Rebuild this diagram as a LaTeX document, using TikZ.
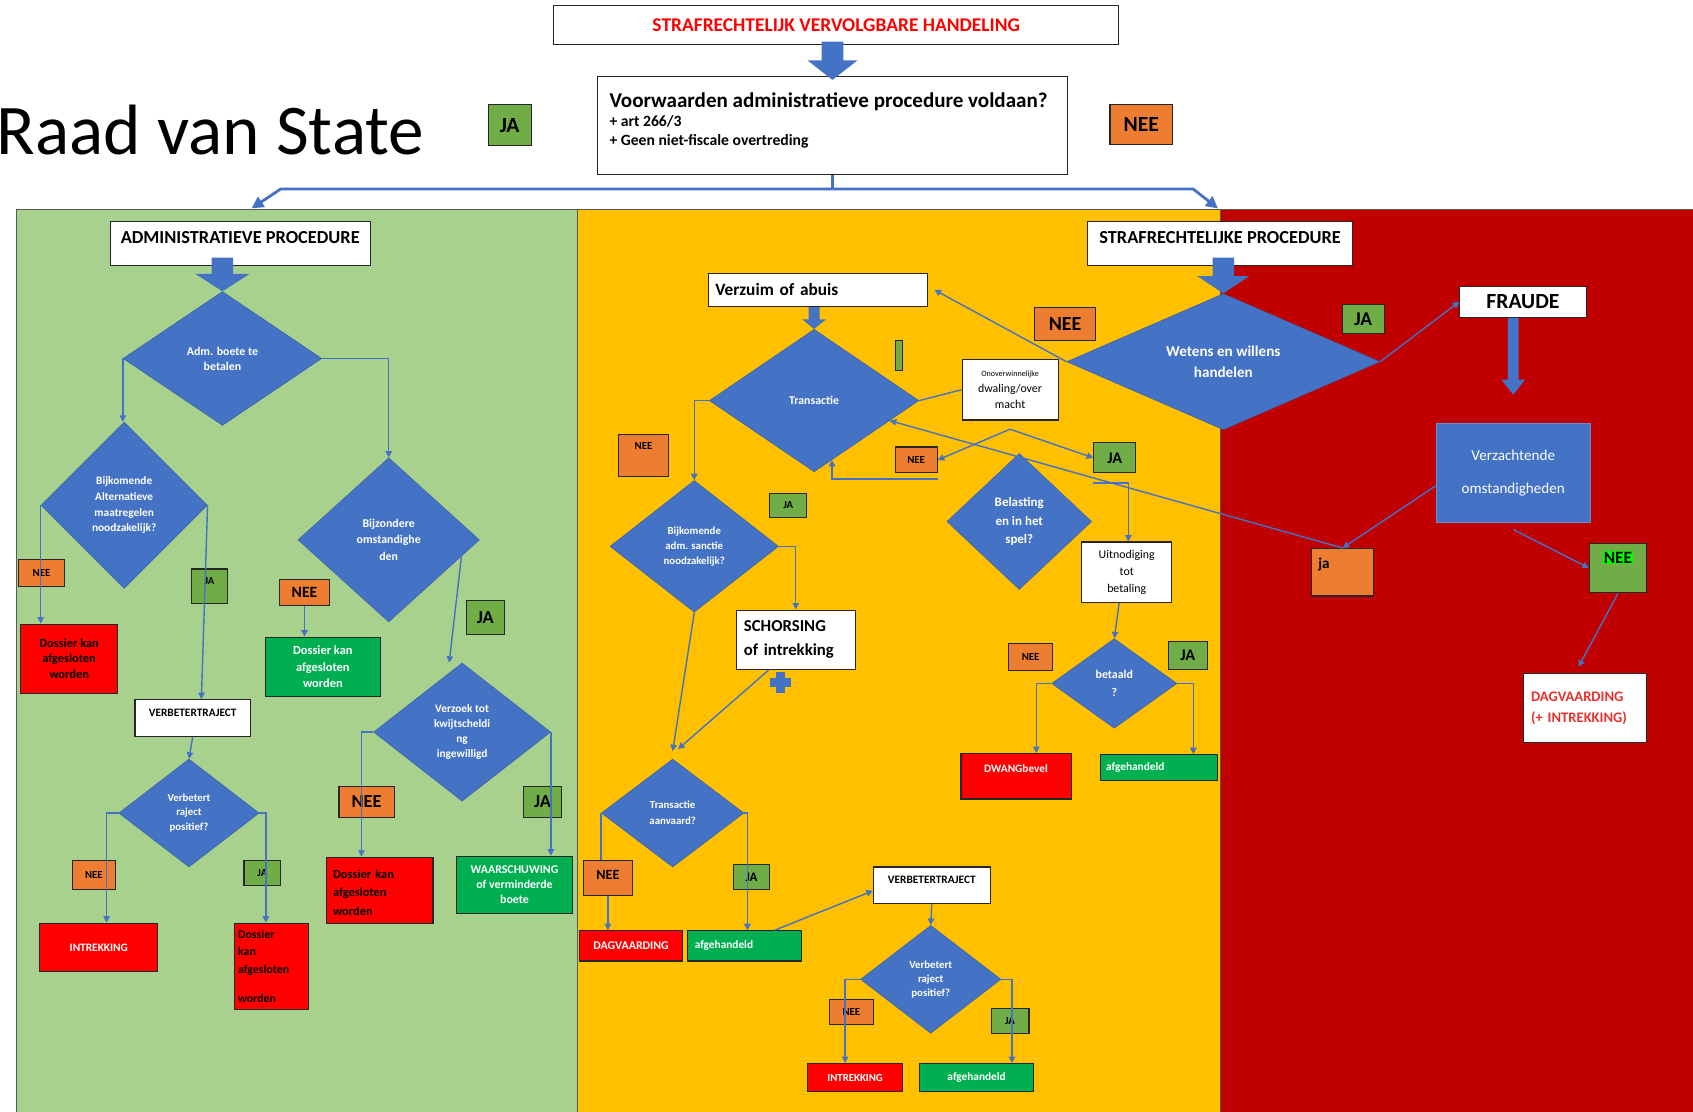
\documentclass[tikz,border=0pt]{standalone}
\usepackage{fontspec}
\setmainfont{Carlito}
\usetikzlibrary{shapes.geometric,arrows.meta,calc}
\definecolor{bl}{HTML}{4472C4}
\definecolor{pg}{HTML}{A9D18E}
\definecolor{py}{HTML}{FFC000}
\definecolor{pr}{HTML}{C00000}
\definecolor{lg}{HTML}{70AD47}
\definecolor{og}{HTML}{ED7D31}
\definecolor{rb}{HTML}{FF0000}
\definecolor{gb}{HTML}{00B050}
\definecolor{hl}{HTML}{00FF00}
\definecolor{tr}{HTML}{E8322F}
\newcommand\fsz[2]{\fontsize{#1}{#2}\selectfont}
\newcommand\blk[5]{\fill[bl] let \p1=#1, \p2=#2 in (\x1-#3,\y1) -- (\x1+#3,\y1) -- (\x1+#3,\y2+#5) -- (\x1+#4,\y2+#5) -- (\x1,\y2) -- (\x1-#4,\y2+#5) -- (\x1-#3,\y2+#5) -- cycle;}
\begin{document}
\begin{tikzpicture}[x=1pt,y=-1pt,
 conn/.style={draw=bl, line width=1.3pt, -{Triangle[length=6pt,width=6pt]}},
 cline/.style={draw=bl, line width=1.3pt},
 big/.style={draw=bl, line width=2.6pt},
 bigA/.style={big, -{Triangle[length=11pt,width=11pt]}},
 dia/.style={diamond, aspect=1.4, fill=bl, draw=bl!85!black, line width=0.5pt, inner sep=0pt, align=center, text=white, font=\bfseries\fsz{10}{14}},
 sz/.style 2 args={minimum width=#1pt, minimum height=#2pt},
 wbox/.style={draw=black!85, line width=1pt, fill=white, align=center, inner sep=1pt, font=\bfseries},
 rbox/.style={wbox, fill=rb},
 gbox/.style={wbox, fill=gb, text=white},
 labO/.style={draw=black!85, line width=1pt, fill=og, inner sep=0pt, font=\bfseries},
 labG/.style={labO, fill=lg},
]
\useasboundingbox (0,0) rectangle (1568,1029);
\fill[white] (0,0) rectangle (1568,1029);
\node[anchor=base west, font=\fsz{66}{70}, inner sep=0pt] (rvs) at (-3,143) {Raad van State};

% panels
\filldraw[fill=pg, draw=black!65, line width=1pt] (15,194) rectangle (535,1035);
\filldraw[fill=py, draw=black!65, line width=1pt] (535,194) rectangle (1130,1035);
\filldraw[fill=pr, draw=black!65, line width=1pt] (1130,194) rectangle (1575,1035);

% top
\node[wbox, sz={523}{36}, text=rb, font=\bfseries\fsz{18}{20}] (title) at (774.5,23) {STRAFRECHTELIJK VERVOLGBARE HANDELING};
\node[wbox, anchor=north west, inner sep=0pt] (vw) at (553,70) {\begin{minipage}[t][91pt][t]{435pt}\leftskip=11pt\vspace*{15pt}\fsz{19.5}{20}Voorwaarden administratieve procedure voldaan?\par\fsz{14.5}{18}+ art 266/3\par + Geen niet-fiscale overtreding\par\end{minipage}};
\node[labG, sz={40}{38}, font=\bfseries\fsz{20}{22}] (jat) at (472,116) {JA};
\node[labO, sz={58}{37}, font=\bfseries\fsz{20}{22}] (neet) at (1057,115.5) {NEE};

% green panel
\node[wbox, sz={241}{41}, font=\bfseries\fsz{17}{19}, text depth=11pt] (adm) at (222.5,225.5) {ADMINISTRATIEVE PROCEDURE};
\node[dia, sz={184}{124}, font=\bfseries\fsz{11}{14}] (d1) at (206,332) {Adm. boete te\\betalen};
\node[dia, sz={154}{154}, font=\bfseries\fsz{10.5}{14.5}] (d2) at (115,468) {Bijkomende\\Alternatieve\\maatregelen\\noodzakelijk?};
\node[dia, sz={168}{152}, font=\bfseries\fsz{11}{15}] (d3) at (360,500) {Bijzondere\\omstandighe\\den};
\node[dia, sz={130}{100}, font=\bfseries\fsz{10}{13}] (d4) at (175,753) {Verbetert\\raject\\positief?};
\node[dia, sz={164}{128}, font=\bfseries\fsz{10.5}{14}] (d5) at (428,678) {Verzoek tot\\kwijtscheldi\\ng\\ingewilligd};
\node[rbox, sz={90}{64}, font=\bfseries\fsz{11.5}{14}] (r1) at (64,610) {Dossier kan\\afgesloten\\worden};
\node[wbox, sz={107}{34}, font=\bfseries\fsz{10.5}{12}, text depth=10pt] (vt1) at (178.5,665) {VERBETERTRAJECT};
\node[gbox, sz={106}{55}, font=\bfseries\fsz{11.5}{15}] (g1) at (299,617.5) {Dossier kan\\afgesloten\\worden};
\node[rbox, sz={109}{45}, text=white, font=\bfseries\fsz{10.5}{12}] (intr1) at (91.5,877.5) {INTREKKING};
\node[rbox, sz={69}{80}, align=left, text width=62pt, font=\bfseries\fsz{11}{16}] (r2) at (251.5,895) {Dossier\\kan\\afgesloten\\[11pt]worden};
\node[rbox, sz={99}{61}, align=left, text width=86pt, font=\bfseries\fsz{11.5}{17}, text depth=30pt] (r3) at (351.5,824.5) {Dossier kan\\afgesloten\\worden};
\node[gbox, sz={107}{53}, font=\bfseries\fsz{11}{14}] (g2) at (476.5,819.5) {WAARSCHUWING\\of verminderde\\boete};
\node[labO, sz={43}{25}, font=\bfseries\fsz{10}{11}] (n1) at (38.5,530.5) {NEE};
\node[labG, sz={34}{32}, font=\bfseries\fsz{10}{11}, text depth=10pt] (j1) at (194,543) {JA};
\node[labO, sz={46}{24}, font=\bfseries\fsz{14.5}{16}] (n2) at (282,549) {NEE};
\node[labG, sz={35}{32}, font=\bfseries\fsz{17}{18}] (j2) at (449.5,572) {JA};
\node[labO, sz={40}{27}, font=\bfseries\fsz{10}{11}] (n3) at (87,810.5) {NEE};
\node[labG, sz={34}{23}, font=\bfseries\fsz{10}{11}] (j3) at (243,808.5) {JA};
\node[labO, sz={51}{29}, font=\bfseries\fsz{17}{18}] (n4) at (339.5,742.5) {NEE};
\node[labG, sz={35}{29}, font=\bfseries\fsz{17}{18}] (j4) at (502.5,742.5) {JA};

% yellow panel
\node[wbox, sz={246}{41}, font=\bfseries\fsz{17}{19}, text depth=11pt] (straf) at (1130,225.5) {STRAFRECHTELIJKE PROCEDURE};
\node[dia, aspect=2.3, sz={290}{126}, font=\bfseries\fsz{14}{19}] (d6) at (1133,335) {Wetens en willens\\handelen};
\node[wbox, sz={203}{31}, align=left, text width=190pt, font=\bfseries\fsz{16}{18}] (verz) at (757.5,268.5) {Verzuim of abuis};
\node[dia, sz={194}{132}, font=\bfseries\fsz{11}{13}] (d7) at (754,371) {Transactie};
\node[labG, sz={7}{28}, line width=0.8pt] (tg) at (832.5,329) {};
\node[wbox, sz={89}{56}, font=\fsz{11}{15}] (over) at (935.5,361) {{\fsz{7.5}{9}Onoverwinnelijke}\\dwaling/over\\macht};
\node[labO, sz={57}{30}, font=\bfseries\fsz{18.5}{20}] (n5) at (986.5,300) {NEE};
\node[labG, sz={39}{27}, font=\bfseries\fsz{18}{20}] (j5) at (1262.5,295.5) {JA};
\node[labO, sz={46}{39}, font=\bfseries\fsz{10}{11}, text depth=16pt] (n6) at (596,421.5) {NEE};
\node[dia, sz={156}{122}, font=\bfseries\fsz{10}{14}] (d8) at (643,506) {Bijkomende\\adm. sanctie\\noodzakelijk?};
\node[labG, sz={34}{22}, font=\bfseries\fsz{10}{11}] (j6) at (730,468) {JA};
\node[wbox, sz={110}{55}, align=left, text width=96pt, font=\bfseries\fsz{15.5}{22}] (sch) at (737,592.5) {SCHORSING\\of intrekking};
\fill[bl] (719,622) rectangle (727,642);
\fill[bl] (713,628) rectangle (733,636);
\node[labO, sz={39}{24}, font=\bfseries\fsz{10}{11}] (n7) at (848.5,426) {NEE};
\node[labG, sz={39}{28}, font=\bfseries\fsz{15}{16}] (j7) at (1032.5,424) {JA};
\node[dia, sz={134}{126}, font=\bfseries\fsz{12}{17}] (d11) at (944,483) {Belasting\\en in het\\spel?};
\node[wbox, sz={83}{56}, font=\fsz{11}{16}] (uit) at (1043.5,530) {Uitnodiging\\tot\\betaling};
\node[dia, sz={116}{83}, font=\bfseries\fsz{11}{17}] (d12) at (1032,633) {betaald\\?};
\node[labO, sz={41}{25}, font=\bfseries\fsz{10}{11}] (n8) at (954.5,608.5) {NEE};
\node[labG, sz={36}{26}, font=\bfseries\fsz{15}{16}] (j8) at (1100,607) {JA};
\node[rbox, sz={102}{42}, text=white, font=\bfseries\fsz{10.5}{12}, text depth=14pt] (dwang) at (941,719) {DWANGbevel};
\node[gbox, sz={109}{24}, align=left, text width=98pt, font=\bfseries\fsz{10.5}{12}] (afg1) at (1073.5,711) {afgehandeld};
\node[dia, sz={132}{100}, font=\bfseries\fsz{10}{15}] (d9) at (623,753) {Transactie\\aanvaard?};
\node[labO, sz={46}{32}, font=\bfseries\fsz{13}{14}, text depth=6pt] (n9) at (563,813) {NEE};
\node[labG, sz={34}{23}, font=\bfseries\fsz{12}{13}] (j9) at (696,812.5) {JA};
\node[rbox, sz={95}{28}, text=white, font=\bfseries\fsz{11}{12}] (dag) at (584.5,876) {DAGVAARDING};
\node[gbox, sz={105}{28}, align=left, text width=92pt, font=\bfseries\fsz{10.5}{12}] (afg2) at (689.5,876) {afgehandeld};
\node[wbox, sz={108}{34}, font=\bfseries\fsz{10.5}{12}, text depth=10pt] (vt2) at (863,820) {VERBETERTRAJECT};
\node[dia, sz={130}{100}, font=\bfseries\fsz{10}{13}] (d10) at (862,907) {Verbetert\\raject\\positief?};
\node[labO, sz={41}{23}, font=\bfseries\fsz{10}{11}] (n10) at (788.5,937.5) {NEE};
\node[labG, sz={35}{23}, font=\bfseries\fsz{10}{11}] (j10) at (935.5,945.5) {JA};
\node[rbox, sz={88}{26}, text=white, font=\bfseries\fsz{10}{12}] (intr2) at (792,998) {INTREKKING};
\node[gbox, sz={105}{26}, font=\bfseries\fsz{10.5}{12}] (afg3) at (904.5,998) {afgehandeld};

% red panel
\node[wbox, sz={117}{29}, font=\bfseries\fsz{20}{22}] (fraude) at (1410.5,279.5) {FRAUDE};
\node[fill=bl, draw=bl!80!white, line width=0.8pt, sz={143}{92}, text=white, align=center, font=\fsz{14}{31}] (vz) at (1401.5,438) {Verzachtende\\omstandigheden};
\node[labO, sz={57}{44}, align=left, text width=45pt, font=\bfseries\fsz{14}{16}, text depth=16pt] (jar) at (1243.5,530) {ja};
\node[labG, sz={53}{46}, font=\bfseries\fsz{16}{18}, text depth=20pt] (neer) at (1498.5,526) {\setlength\fboxsep{0.5pt}\colorbox{hl}{NEE}};
\node[wbox, sz={114}{64}, align=left, text width=100pt, text=tr, font=\bfseries\fsz{13.5}{19}] (dagv) at (1468,656) {DAGVAARDING\\(+ INTREKKING)};

% block arrows
\blk{($(vw.north |- title.south)+(0,-3)$)}{($(vw.north)+(0,4)$)}{10pt}{23pt}{18pt}
\blk{($(d1.north |- adm.south)+(0,-8)$)}{(d1.north)}{10pt}{25pt}{16pt}
\blk{($(d6.north |- straf.south)+(0,-8)$)}{(d6.north)}{10pt}{24pt}{16pt}
\blk{(d7.north |- verz.south)}{(d7.north)}{5pt}{11pt}{9pt}
\blk{(vz.north |- fraude.south)}{($(vz.north)+(0,-26)$)}{5pt}{11pt}{14pt}

% top connectors
\coordinate (gtop) at (233,193);
\coordinate (ytop) at (1128,193);
\coordinate (split) at (vw.south |- 0,175);
\draw[big] (vw.south) -- (split);
\draw[bigA] (split) -- (260,175) -- (gtop);
\draw[bigA] (split) -- (1105,175) -- (ytop);

% green connectors
\draw[conn] (d1.west) -- (d1.west |- d2.north);
\draw[conn] (d1.east) -| (d3.north);
\draw[conn] (d2.west) -- (d2.west |- r1.north);
\draw[conn] (d2.east) -- ([xshift=8pt]vt1.north);
\draw[conn] (vt1.south) -- (d4.north);
\draw[conn] (d4.west) -- ([xshift=-11pt]d4.west) -- ([xshift=-11pt]d4.west |- intr1.north);
\draw[conn] (d4.east) -- ([xshift=6pt]d4.east) -- ([xshift=6pt]d4.east |- r2.north);
\draw[conn] (n2.south) -- (n2.south |- g1.north);
\draw[conn] ($(d3.east)!0.2!(d3.south)$) -- ([xshift=-12pt]d5.north);
\draw[conn] (d5.west) -- ([xshift=-11pt]d5.west) -- ([xshift=-11pt]d5.west |- r3.north);
\draw[conn] (d5.east) -- (d5.east |- g2.north);

% yellow connectors
\draw[conn] (d6.west) -- ([xshift=6pt]verz.east);
\draw[cline] (d7.east) -- (over.west);
\coordinate (ob) at ([yshift=-8pt]over.south);
\draw[conn] (ob) -- (n7.east);
\draw[conn] (ob) -- (j7.west);
\draw[conn] ([yshift=-5pt]n7.south east) -| ($(d7.south)!0.17!(d7.east)$);
\draw[conn] (jar.north) -- ($(d7.east)!0.28!(d7.south)$);
\draw[conn] ([yshift=-9pt]j7.south west) -| ([xshift=1.5pt]uit.north);
\draw[conn] (d7.west) -| (d8.north);
\draw[conn] (d8.east) -| (sch.north);
\draw[conn] (d8.south) -- ([yshift=7pt]d9.north);
\draw[conn] ([xshift=-25pt]sch.south) -- ([xshift=5pt,yshift=9pt]d9.north);
\draw[cline] (d9.west) -- (d9.west |- n9.north);
\draw[conn] (n9.south) -- (n9.south |- dag.north);
\draw[conn] (d9.east) -- ([xshift=3pt]d9.east) -- ([xshift=3pt]d9.east |- afg2.north);
\draw[conn] ([xshift=28pt]afg2.north) -- ([yshift=-5pt]vt2.west);
\draw[conn] (vt2.south) -- (d10.north);
\draw[conn] (d10.west) -- ([xshift=-14pt]d10.west) -- ([xshift=-14pt]d10.west |- intr2.north);
\draw[conn] (d10.east) -- ([xshift=10pt]d10.east) -- ([xshift=10pt]d10.east |- afg3.north);
\draw[conn] ([xshift=-7pt]uit.south) -- (d12.north);
\draw[conn] (d12.west) -- ([xshift=-14pt]d12.west) -- ([xshift=-14pt]d12.west |- dwang.north);
\draw[conn] (d12.east) -- ([xshift=15pt]d12.east) -- ([xshift=15pt]d12.east |- afg1.north);

% red connectors
\draw[conn] (d6.east) -- (fraude.west);
\draw[conn] ([yshift=-12pt]vz.west) -- (jar.north);
\draw[conn] ([yshift=-6pt]vz.south) -- (neer.west);
\draw[conn] (neer.south) -- ([xshift=-6pt,yshift=6pt]dagv.north);
\end{tikzpicture}
\end{document}
